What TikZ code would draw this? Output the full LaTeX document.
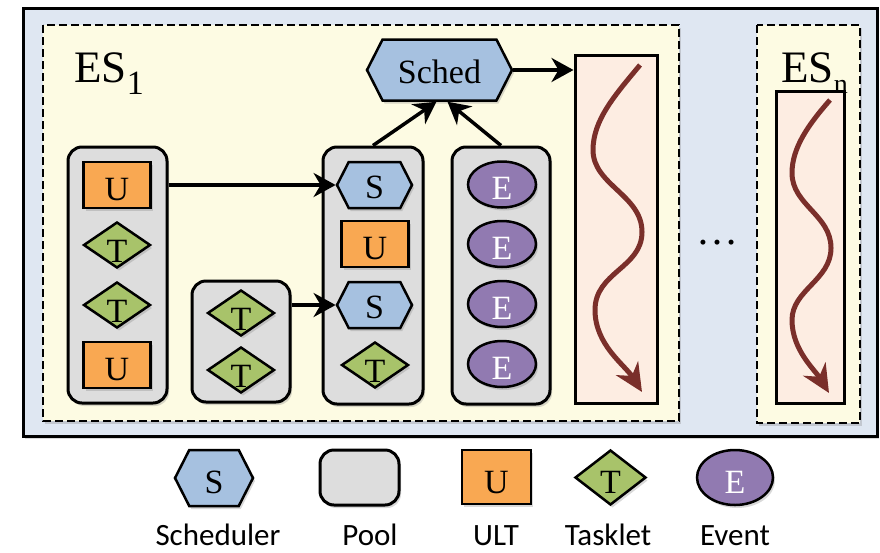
\documentclass[tikz,border=0pt]{standalone}
\usepackage{fontspec}
\setmainfont{Liberation Serif}
\newfontfamily\legendfont{Carlito}
\usetikzlibrary{arrows.meta,shapes.geometric,shapes.symbols,shadows}

\definecolor{outerbg}{HTML}{DFE7F2}
\definecolor{esbg}{HTML}{FDFBE3}
\definecolor{schedblue}{HTML}{A6C1E0}
\definecolor{poolgray}{HTML}{DDDDDD}
\definecolor{ultorange}{HTML}{F9A852}
\definecolor{taskgreen}{HTML}{A8C36A}
\definecolor{eventpurple}{HTML}{917AB1}
\definecolor{threadpink}{HTML}{FDEDE2}
\definecolor{wavered}{HTML}{7A2F2A}

\newcommand{\low}[2][4pt]{\raisebox{-#1}[\height][0pt]{#2}}

\begin{document}
\begin{tikzpicture}[x=1pt,y=-1pt,
every node/.style={inner sep=0pt, line width=2.5pt},
softshadow/.style={drop shadow={shadow xshift=2pt, shadow yshift=-3pt, opacity=0.3}},
letter/.style={font=\fontsize{34}{34}\selectfont},
sched/.style={signal, signal to=west and east, signal pointer angle=126, draw, fill=schedblue, softshadow, letter},
pool/.style={rectangle, rounded corners=14pt, draw, line width=3pt, fill=poolgray, softshadow},
ult/.style={rectangle, draw, fill=ultorange, minimum width=67pt, minimum height=46pt, softshadow, letter},
tasklet/.style={diamond, draw, fill=taskgreen, minimum width=67pt, minimum height=46pt, softshadow, letter},
event/.style={ellipse, draw, fill=eventpurple, text=white, minimum width=68pt, minimum height=46pt, softshadow, letter},
thread/.style={rectangle, draw, line width=3pt, fill=threadpink},
esbox/.style={draw, line width=2.5pt, dash pattern=on 8pt off 4pt, fill=esbg, softshadow},
eslabel/.style={anchor=base west, font=\fontsize{45}{45}\selectfont},
legend/.style={anchor=base, font=\legendfont\fontsize{31}{31}\selectfont},
link/.style={-{Stealth[length=22pt,width=24pt,inset=7pt]}, line width=3.5pt},
wave/.style={draw=wavered, line width=5pt, -{Stealth[length=28pt,width=26pt,inset=9pt]}}]
\useasboundingbox (0,0) rectangle (880,552);
\draw [line width=3pt, fill=outerbg, softshadow] (23,8) rectangle (877,436);
\draw [esbox] (43,25) rectangle (679,421);
\draw [esbox] (757,25) rectangle (860,423);
\node [eslabel] (es1) at (73,82) {ES\raisebox{-12pt}{\fontsize{34}{34}\selectfont 1}};
\node [eslabel] (esn) at (780,82) {ES\raisebox{-11pt}{\fontsize{28}{28}\selectfont n}};
\node [thread, minimum width=82pt, minimum height=348pt] (thr1) at (616,229) {};
\node [thread, minimum width=68pt, minimum height=312pt] (thrn) at (810,247) {};
\node [sched, minimum width=145pt, minimum height=61pt] (sch) at (439.5,70) {\low[2pt]{Sched}};
\node [pool, minimum width=99pt, minimum height=256pt] (pool1) at (117.5,275) {};
\node [pool, minimum width=98pt, minimum height=121pt] (pool2) at (241,341.5) {};
\node [pool, minimum width=100pt, minimum height=257pt] (pool3) at (373,275.5) {};
\node [pool, minimum width=98pt, minimum height=257pt] (pool4) at (501,275.5) {};
\node [ult] (u1) at (117,185) {\low{U}};
\node [tasklet] (t1) at (117,245) {\low[6pt]{T}};
\node [tasklet] (t2) at (117,305) {\low[6pt]{T}};
\node [ult] (u2) at (117,365) {\low{U}};
\node [tasklet] (t3) at (241,313) {\low[6pt]{T}};
\node [tasklet] (t4) at (241,370) {\low[6pt]{T}};
\node [sched, minimum width=75pt, minimum height=46pt] (s1) at (374.5,185) {\low[2pt]{S}};
\node [ult] (u3) at (375,244) {\low{U}};
\node [sched, minimum width=75pt, minimum height=46pt] (s2) at (374.5,305) {\low[2pt]{S}};
\node [tasklet] (t5) at (375,365) {\low[6pt]{T}};
\node [event] (e1) at (502,184.5) {\low{E}};
\node [event] (e2) at (502,244) {\low{E}};
\node [event] (e3) at (502,304) {\low{E}};
\node [event] (e4) at (502,364) {\low{E}};
\draw [link] (pool1.east |- s1) -- (s1.west);
\draw [link] (pool2.east |- s2) -- (s2.west);
\draw [link] (pool3.north) -- ([xshift=-3pt]sch.south);
\draw [link] (pool4.north) -- ([xshift=8pt]sch.south);
\draw [link] (sch.east) -- (sch.east -| thr1.west);
\draw [wave] (640,65) .. controls (615,95) and (593,120) .. (593,150) .. controls (593,185) and (642,195) .. (642,232) .. controls (642,268) and (595,272) .. (595,310) .. controls (595,345) and (625,365) .. (642,392);
\draw [wave] (830,100) .. controls (808,125) and (792,148) .. (792,173) .. controls (792,205) and (831,215) .. (831,248) .. controls (831,280) and (792,290) .. (792,320) .. controls (792,350) and (815,370) .. (829,393);
\node (dots) at (717,243) {\fontsize{42}{42}\selectfont\dots};
\node [sched, minimum width=78pt, minimum height=56pt] (lsch) at (214,478) {\low{S}};
\node [pool, minimum width=79pt, minimum height=55pt] (lpool) at (359.5,477.5) {};
\node [ult, minimum width=69pt, minimum height=54pt] (lult) at (496.5,477) {\low[5pt]{U}};
\node [tasklet, minimum width=71pt, minimum height=55pt] (ltask) at (610.5,477.5) {\low[5pt]{T}};
\node [event, minimum width=76pt, minimum height=55pt] (levent) at (735,477.5) {\low[5pt]{E}};
\node [legend] (lab1) at (218,545) {Scheduler};
\node [legend] (lab2) at (370,545) {Pool};
\node [legend] (lab3) at (496,545) {ULT};
\node [legend] (lab4) at (608,545) {Tasklet};
\node [legend] (lab5) at (735,545) {Event};
\end{tikzpicture}
\end{document}
